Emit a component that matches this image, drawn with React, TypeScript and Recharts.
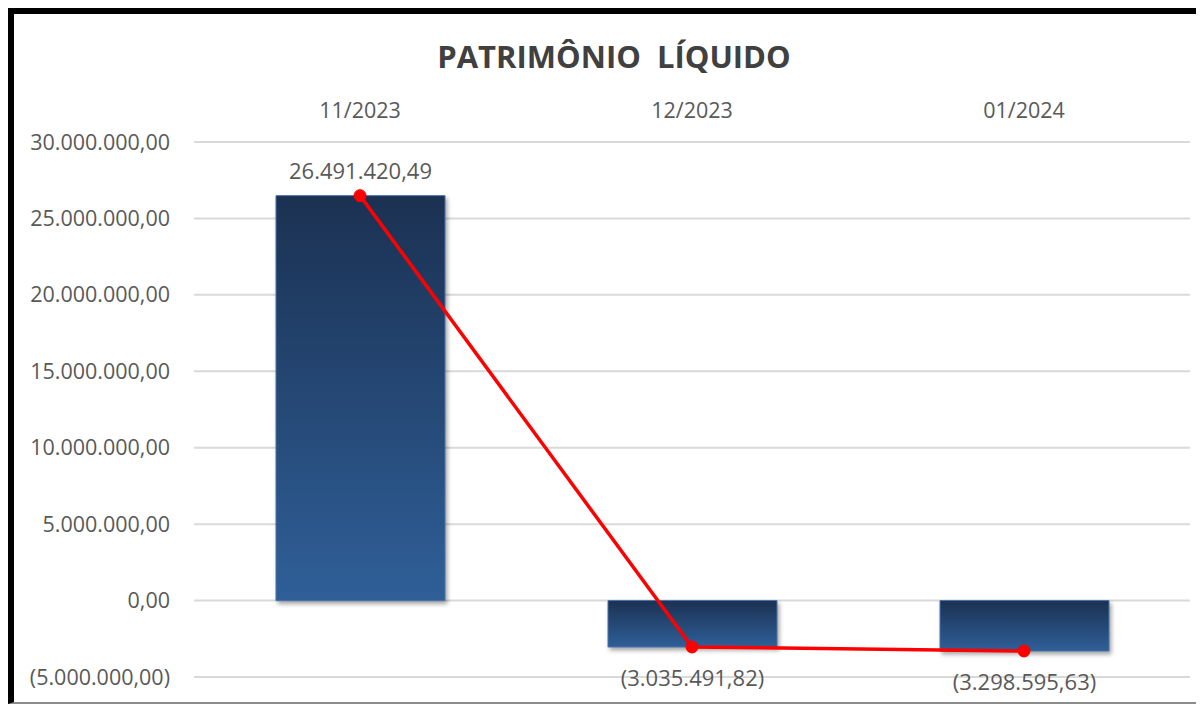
import { Bar, CartesianGrid, ComposedChart, LabelList, Line, XAxis, YAxis } from 'recharts';

const meses = ['11/2023', '12/2023', '01/2024'];
const patrimonio = [26491420.49, -3035491.82, -3298595.63];
const yTicks = [-5000000, 0, 5000000, 10000000, 15000000, 20000000, 25000000, 30000000];

const data = meses.map((mes, i) => ({ mes, valor: patrimonio[i] }));

const FONT = '"Open Sans", "Noto Sans", sans-serif';

function formatBR(v: number) {
  const abs = Math.abs(v);
  const [int, dec] = abs.toFixed(2).split('.');
  const withDots = int.replace(/\B(?=(\d{3})+(?!\d))/g, '.');
  const s = `${withDots},${dec}`;
  return v < 0 ? `(${s})` : s;
}

function ValueLabel(props: any) {
  const { x, y, width, height, value } = props;
  const top = Math.min(y, y + height);
  const bottom = Math.max(y, y + height);
  const cx = x + width / 2;
  const ty = value >= 0 ? top - 26 : bottom + 30;
  return (
    <text x={cx} y={ty} textAnchor="middle" dominantBaseline="central" fontSize={22} fill="#595959" fontFamily={FONT}>
      {formatBR(value)}
    </text>
  );
}

export default function App() {
  return (
    <div
      style={{
        position: 'relative',
        width: 1190,
        height: 688,
        borderTop: '6px solid #000',
        borderLeft: '6px solid #000',
        borderBottom: '2px solid #8c8c8c',
        background: '#fff',
        overflow: 'hidden',
        fontFamily: FONT,
      }}
    >
      <div
        style={{
          position: 'absolute',
          left: 0,
          width: 1200,
          top: 21,
          textAlign: 'center',
          fontSize: 31,
          fontWeight: 700,
          color: '#404040',
          whiteSpace: 'pre',
        }}
      >
        {'PATRIMÔNIO  LÍQUIDO'}
      </div>
      <ComposedChart width={1190} height={690} data={data} margin={{ top: 98, right: 14, bottom: 27, left: 0 }}>
        <defs>
          <linearGradient id="barGrad" x1="0" y1="0" x2="0" y2="1">
            <stop offset="0%" stopColor="#1b3152" />
            <stop offset="100%" stopColor="#2f5f98" />
          </linearGradient>
        </defs>
        <CartesianGrid vertical={false} stroke="#d9d9d9" strokeWidth={2} />
        <XAxis
          dataKey="mes"
          orientation="top"
          height={30}
          axisLine={false}
          tickLine={false}
          tickSize={0}
          tickMargin={24}
          tick={{ fontSize: 21.5, fill: '#595959', fontFamily: FONT }}
        />
        <YAxis
          width={180}
          domain={[-5000000, 30000000]}
          ticks={yTicks}
          axisLine={false}
          tickLine={false}
          tickSize={0}
          tickMargin={24}
          tickFormatter={formatBR}
          tick={{ fontSize: 21.5, fill: '#595959', fontFamily: FONT }}
        />
        <Bar
          dataKey="valor"
          barSize={169}
          fill="url(#barGrad)"
          stroke="#4a72a8"
          strokeWidth={1}
          isAnimationActive={false}
          style={{ filter: 'drop-shadow(2px 3px 2px rgba(0,0,0,0.35))' }}
        >
          <LabelList dataKey="valor" content={<ValueLabel />} />
        </Bar>
        <Line
          dataKey="valor"
          stroke="#ff0000"
          strokeWidth={3.5}
          dot={{ r: 6, fill: '#ff0000', stroke: '#ff0000', strokeWidth: 1 }}
          activeDot={false}
          isAnimationActive={false}
        />
      </ComposedChart>
    </div>
  );
}
